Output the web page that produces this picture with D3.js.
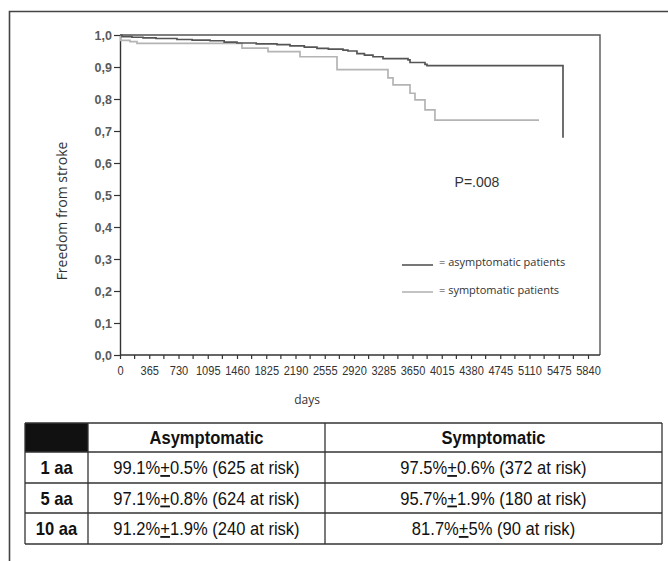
<!DOCTYPE html>
<html><head><meta charset="utf-8">
<script src="https://cdn.jsdelivr.net/npm/d3@7"></script>
<style>body{margin:0;background:#fff} svg{display:block}</style>
</head><body><svg id="c" width="668" height="561"></svg>
<script>
// ---------- data ----------
const asymTimes = [0, 25, 150, 287, 450, 711, 900, 1123, 1300, 1460, 1700, 1959, 2121, 2300, 2458, 2600, 2783, 2845, 2957, 3050, 3157, 3282, 3594, 3619, 3806, 3831, 5528];
const asymSurv  = [1.0, 0.995, 0.993, 0.991, 0.989, 0.986, 0.984, 0.982, 0.978, 0.975, 0.972, 0.970, 0.966, 0.962, 0.958, 0.956, 0.953, 0.950, 0.942, 0.937, 0.932, 0.926, 0.922, 0.914, 0.908, 0.904, 0.679];
const symTimes  = [0, 10, 125, 212, 1522, 1847, 2246, 2708, 3344, 3407, 3619, 3681, 3806, 3930, 5229];
const symSurv   = [1.0, 0.983, 0.979, 0.974, 0.959, 0.948, 0.932, 0.892, 0.866, 0.844, 0.818, 0.797, 0.766, 0.734, 0.734];
const xTickValues = [0, 365, 730, 1095, 1460, 1825, 2190, 2555, 2920, 3285, 3650, 4015, 4380, 4745, 5110, 5475, 5840];
const yTickValues = [0, 0.1, 0.2, 0.3, 0.4, 0.5, 0.6, 0.7, 0.8, 0.9, 1.0];
const seriesNames = ["= asymptomatic patients", "= symptomatic patients"];
const pValueText = "P=.008";
const xTitle = "days";
const yTitle = "Freedom from stroke";
const tableColumns = ["Asymptomatic", "Symptomatic"];
const tableRows = ["1 aa", "5 aa", "10 aa"];
const asymCells = ["99.1%+0.5% (625 at risk)", "97.1%+0.8% (624 at risk)", "91.2%+1.9% (240 at risk)"];
const symCells  = ["97.5%+0.6% (372 at risk)", "95.7%+1.9% (180 at risk)", "81.7%+5% (90 at risk)"];

// ---------- drawing ----------
const svg = d3.select("#c");
const darkCol = "#555", lightCol = "#b4b4b4";

// outer frame
svg.append("path").attr("d", "M9.5,561 V11.5 H668").attr("fill", "none")
  .attr("stroke", "#444").attr("stroke-width", 1.6);

const x = d3.scaleLinear().domain([0, 5840]).range([120, 588]);
const y = d3.scaleLinear().domain([0, 1]).range([355, 35]);
const plotRight = 600;

// plot frame (top + right)
svg.append("path").attr("d", `M${x(0)},${y(1)} H${plotRight} V${y(0)}`)
  .attr("fill", "none").attr("stroke", "#555").attr("stroke-width", 1.4);

// x axis
const xAxis = d3.axisBottom(x).tickValues(xTickValues).tickSize(4).tickSizeOuter(0).tickFormat(d3.format("d"));
const gx = svg.append("g").attr("transform", `translate(0,${y(0)})`).call(xAxis);
gx.select(".domain").attr("d", `M${x(0)},0 H${plotRight}`).attr("stroke", "#333").attr("stroke-width", 1.4);
gx.selectAll(".tick line").attr("stroke", "#333").attr("stroke-width", 1.2);
gx.selectAll(".tick text").attr("font-family", "'Liberation Sans', Arial, sans-serif")
  .attr("font-size", 13.5).attr("fill", "#333").attr("dy", "0.93em").attr("y", 7)
  .attr("transform", "scale(0.82,1)");
// minor ticks
const minor = xTickValues.slice(0, -1).map(d => d + 182.5);
gx.selectAll(".minor").data(minor).enter().append("line").attr("class", "minor")
  .attr("x1", d => x(d)).attr("x2", d => x(d)).attr("y1", 0).attr("y2", 4)
  .attr("stroke", "#333").attr("stroke-width", 1.2);

// y axis
const yAxis = d3.axisLeft(y).tickValues(yTickValues).tickSize(6).tickSizeOuter(0)
  .tickFormat(d => d3.format(".1f")(d).replace(".", ","));
const gy = svg.append("g").attr("transform", `translate(${x(0)},0)`).call(yAxis);
gy.select(".domain").attr("stroke", "#333").attr("stroke-width", 1.4);
gy.selectAll(".tick line").attr("stroke", "#333").attr("stroke-width", 1.2);
gy.selectAll(".tick text").attr("font-family", "'Liberation Sans', Arial, sans-serif")
  .attr("font-size", 12.5).attr("font-weight", "bold").attr("fill", "#5a5a5a").attr("x", -8);

// axis titles
svg.append("text").attr("x", 307).attr("y", 404).attr("text-anchor", "middle")
  .attr("font-family", "'Open Sans', sans-serif").attr("font-size", 12).attr("fill", "#333").text(xTitle);
svg.append("text").attr("transform", "translate(67,211) rotate(-90)").attr("text-anchor", "middle")
  .attr("font-family", "'Open Sans', sans-serif").attr("font-size", 14).attr("fill", "#333").text(yTitle);

// curves
const line = d3.line().x(d => x(d[0])).y(d => y(d[1])).curve(d3.curveStepAfter);
const asym = asymTimes.map((t, i) => [t, asymSurv[i]]);
const sym = symTimes.map((t, i) => [t, symSurv[i]]);
svg.append("path").datum(sym).attr("d", line).attr("fill", "none").attr("stroke", lightCol).attr("stroke-width", 1.7);
svg.append("path").datum(asym).attr("d", line).attr("fill", "none").attr("stroke", darkCol).attr("stroke-width", 1.7);

// p value
svg.append("text").attr("x", 477).attr("y", 187).attr("text-anchor", "middle")
  .attr("font-family", "'Liberation Sans', Arial, sans-serif").attr("font-size", 14).attr("fill", "#333").text(pValueText);

// legend
const legY = [265, 292];
const legCols = [darkCol, lightCol];
seriesNames.forEach((name, i) => {
  svg.append("line").attr("x1", 402).attr("x2", 433).attr("y1", legY[i]).attr("y2", legY[i])
    .attr("stroke", legCols[i]).attr("stroke-width", 1.6);
  svg.append("text").attr("x", 439).attr("y", legY[i] + (i === 0 ? 0.5 : 1.5))
    .attr("font-family", "'Open Sans', sans-serif").attr("font-size", 11).attr("fill", "#333").text(name);
});

// table
const colX = [25, 88, 325, 662];
const rowY = [423, 452, 483, 513, 544];
const tg = svg.append("g");
tg.append("rect").attr("x", colX[0]).attr("y", rowY[0]).attr("width", colX[1] - colX[0]).attr("height", rowY[1] - rowY[0]).attr("fill", "#111");
rowY.forEach(yy => tg.append("line").attr("x1", colX[0]).attr("x2", colX[3]).attr("y1", yy).attr("y2", yy).attr("stroke", "#333").attr("stroke-width", 1.3));
colX.forEach(xx => tg.append("line").attr("x1", xx).attr("x2", xx).attr("y1", rowY[0]).attr("y2", rowY[4]).attr("stroke", "#333").attr("stroke-width", 1.3));
const tfont = "'Liberation Sans', Arial, sans-serif";
const tsize = 18, tsx = 0.92;
function txt(cx, cy, bold) {
  return tg.append("text").attr("transform", `translate(${cx},${cy}) scale(${tsx},1)`).attr("text-anchor", "middle")
    .attr("font-family", tfont).attr("font-size", tsize).attr("font-weight", bold ? "bold" : "normal").attr("fill", "#111");
}
tableColumns.forEach((c, i) => {
  txt((colX[i + 1] + colX[i + 2]) / 2, (rowY[0] + rowY[1]) / 2 + 6.5, true).text(c);
});
function cell(s, cx, cy) {
  const parts = s.split("+");
  const t = txt(cx, cy, false);
  t.append("tspan").text(parts[0]);
  t.append("tspan").style("text-decoration", "underline").text("+");
  t.append("tspan").text(parts[1]);
}
tableRows.forEach((r, i) => {
  const cy = (rowY[i + 1] + rowY[i + 2]) / 2 + 6.5;
  txt((colX[0] + colX[1]) / 2, cy, true).text(r);
  cell(asymCells[i], (colX[1] + colX[2]) / 2, cy);
  cell(symCells[i], (colX[2] + colX[3]) / 2, cy);
});
</script>
</body></html>
